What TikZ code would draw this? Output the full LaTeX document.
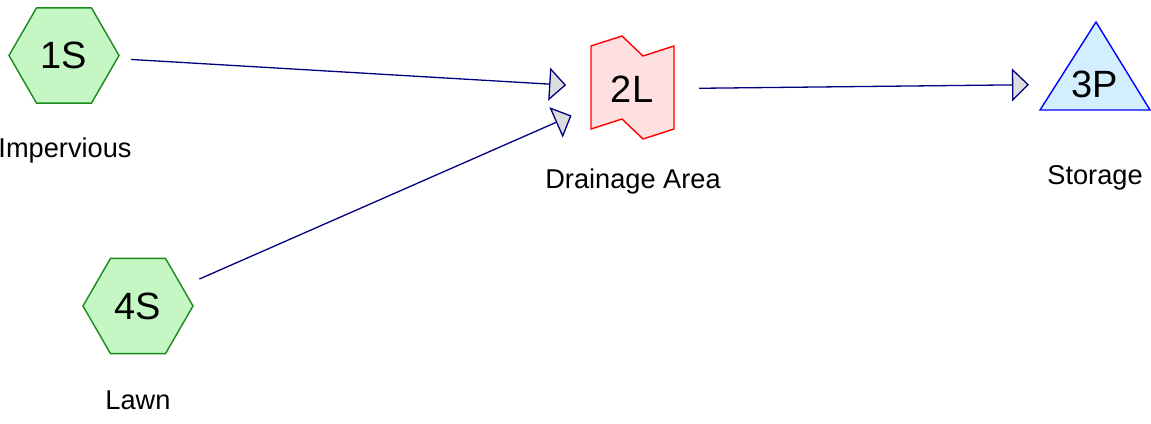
\documentclass[tikz,border=0pt]{standalone}
\usepackage{fontspec}
\setmainfont{Liberation Sans}
\usetikzlibrary{shapes.geometric,arrows.meta}
\definecolor{subfill}{HTML}{C4F7C4}
\definecolor{subdraw}{HTML}{1A8A1A}
\definecolor{linkfill}{HTML}{FFE0E0}
\definecolor{pondfill}{HTML}{D2EEFF}
\definecolor{flow}{HTML}{000080}
\definecolor{tipgray}{HTML}{DDDDDD}
\tikzset{
  subcat/.style={regular polygon, regular polygon sides=6, minimum size=110pt,
    inner sep=0pt, fill=subfill, draw=subdraw, line width=1.4pt,
    font=\fontsize{38}{42}\selectfont},
  bigtag/.style={inner sep=0pt, font=\fontsize{38}{42}\selectfont},
  caption/.style={anchor=base, inner sep=0pt, font=\fontsize{27.2}{30}\selectfont},
  flowline/.style={draw=flow, line width=1.3pt,
    -{Triangle[length=17pt, width=33pt, fill=tipgray]},
    shorten <=67pt, shorten >=66pt},
}
\begin{document}
\begin{tikzpicture}[x=1pt,y=-1pt]
\useasboundingbox (0,0) rectangle (1151,423);

% subcatchments
\node[subcat] (s1) at (64,55.5) {1S};
\node[subcat] (s4) at (138,306) {4S};

% link (reach) outline
\filldraw[fill=linkfill, draw=red, line width=1.4pt]
  (591,46) -- (622,36) -- (643,56) -- (674,46) -- (674,129)
  -- (643,139) -- (622,119) -- (591,129) -- cycle;
\node[bigtag] (l2) at (632,89) {2L};

% pond
\filldraw[fill=pondfill, draw=blue, line width=1.4pt]
  (1096,22) -- (1150,110) -- (1040,110) -- cycle;
\node[bigtag] (p3) at (1095,84) {3P};

% captions
\node[caption] (c1) at (65,157) {Impervious};
\node[caption] (c4) at (138,409) {Lawn};
\node[caption] (c2) at (633,188) {Drainage Area};
\node[caption] (c3) at (1095,184) {Storage};

% flow connections
\draw[flowline] (s1.center) -- (l2.center);
\draw[flowline] (s4.center) -- (l2.center);
\draw[flowline] (l2.center) -- (p3.center);
\end{tikzpicture}
\end{document}
